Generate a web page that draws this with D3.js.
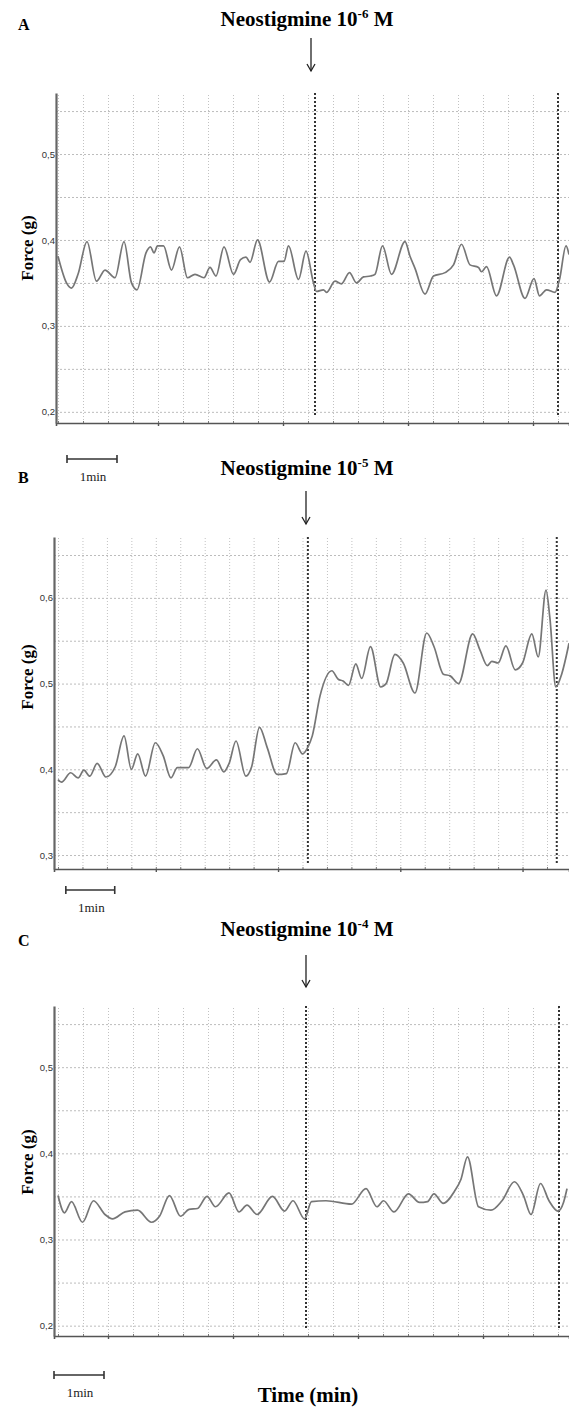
<!DOCTYPE html>
<html><head><meta charset="utf-8">
<script src="https://cdn.jsdelivr.net/npm/d3@7"></script>
<style>body{margin:0;background:#fff}svg{display:block}</style>
</head><body>
<svg id="chart" width="569" height="1409"></svg>
<script>
// ---------- data ----------
const panelLabels = ["A", "B", "C"];
const concentrationExponents = ["-6", "-5", "-4"];

const aTime = [0.00,0.17,0.27,0.40,0.58,0.77,0.94,1.14,1.32,1.47,1.58,1.76,1.85,1.92,1.99,2.11,2.27,2.43,2.59,2.74,2.92,3.04,3.16,3.32,3.51,3.65,3.76,3.84,3.99,4.23,4.41,4.52,4.61,4.81,4.96,5.11,5.17,5.31,5.37,5.54,5.67,5.83,5.97,6.11,6.25,6.34,6.49,6.67,6.94,7.04,7.14,7.34,7.51,7.74,7.91,8.07,8.24,8.41,8.47,8.57,8.77,9.03,9.11,9.34,9.52,9.63,9.77,9.94,10.03,10.16,10.22];
const aForce = [0.381,0.350,0.344,0.360,0.398,0.352,0.365,0.356,0.398,0.350,0.342,0.385,0.392,0.385,0.393,0.393,0.365,0.392,0.356,0.360,0.356,0.368,0.358,0.392,0.360,0.377,0.380,0.374,0.400,0.351,0.375,0.375,0.393,0.354,0.387,0.350,0.340,0.342,0.339,0.352,0.349,0.362,0.350,0.357,0.358,0.360,0.393,0.360,0.398,0.381,0.367,0.337,0.358,0.362,0.371,0.395,0.371,0.368,0.363,0.369,0.335,0.380,0.371,0.332,0.355,0.335,0.342,0.339,0.354,0.393,0.383];

const bTime = [0.00,0.07,0.26,0.41,0.53,0.65,0.80,0.98,1.17,1.35,1.50,1.63,1.79,1.99,2.15,2.31,2.44,2.67,2.85,3.04,3.24,3.39,3.50,3.64,3.84,3.96,4.12,4.28,4.48,4.67,4.85,5.00,5.11,5.20,5.36,5.60,5.73,5.83,5.94,6.09,6.21,6.39,6.60,6.71,6.89,7.06,7.30,7.54,7.69,7.88,8.02,8.19,8.48,8.63,8.78,8.87,9.00,9.16,9.35,9.50,9.69,9.82,9.98,10.06,10.18,10.30,10.45];
const bForce = [0.388,0.385,0.396,0.390,0.399,0.392,0.407,0.391,0.403,0.439,0.400,0.418,0.392,0.431,0.416,0.390,0.402,0.402,0.424,0.401,0.411,0.397,0.407,0.433,0.392,0.403,0.449,0.425,0.394,0.395,0.431,0.418,0.426,0.439,0.486,0.515,0.505,0.503,0.498,0.523,0.506,0.543,0.496,0.500,0.534,0.524,0.489,0.559,0.543,0.511,0.509,0.500,0.558,0.539,0.521,0.526,0.524,0.544,0.516,0.524,0.558,0.531,0.609,0.576,0.496,0.511,0.547];

const cTime = [0.00,0.13,0.27,0.49,0.71,0.94,1.09,1.34,1.59,1.87,2.03,2.23,2.45,2.62,2.79,2.98,3.15,3.42,3.62,3.78,3.98,4.29,4.53,4.70,4.93,5.07,5.36,5.87,6.16,6.38,6.51,6.72,7.01,7.23,7.39,7.52,7.70,7.93,8.06,8.19,8.41,8.66,8.88,9.13,9.31,9.46,9.65,9.82,10.00,10.11,10.18];
const cForce = [0.351,0.331,0.344,0.320,0.345,0.329,0.324,0.332,0.334,0.320,0.327,0.351,0.327,0.335,0.336,0.350,0.338,0.354,0.332,0.340,0.329,0.350,0.333,0.345,0.324,0.344,0.345,0.341,0.359,0.338,0.345,0.332,0.353,0.343,0.344,0.353,0.342,0.356,0.370,0.396,0.338,0.334,0.345,0.367,0.351,0.329,0.365,0.345,0.333,0.343,0.359];

// drug-addition / wash event markers (min)
const aEvents = [5.14, 10.0];
const bEvents = [5.11, 10.2];
const cEvents = [4.96, 10.02];

// y tick labels
const aYTicks = [0.2, 0.3, 0.4, 0.5];
const bYTicks = [0.3, 0.4, 0.5, 0.6];
const cYTicks = [0.2, 0.3, 0.4, 0.5];
const aYGrid = [0.2,0.25,0.3,0.35,0.4,0.45,0.5,0.55];
const bYGrid = [0.3,0.35,0.4,0.45,0.5,0.55,0.6,0.65];
const cYGrid = [0.2,0.25,0.3,0.35,0.4,0.45,0.5,0.55];

// ---------- layout ----------
const panels = [
  {time:aTime, force:aForce, events:aEvents, yTicks:aYTicks, yGrid:aYGrid,
   left:56, right:569, top:93, bottom:423, xDomain:[-0.04,10.22], yDomain:[0.187,0.571],
   majors:[2,4.5,7,9.5], titleY:26, labelY:30, arrowX:311, arrowY1:38, arrowY2:71,
   forceY:248, barY:459, barStart:0.18},
  {time:bTime, force:bForce, events:bEvents, yTicks:bYTicks, yGrid:bYGrid,
   left:54, right:569, top:537, bottom:869, xDomain:[-0.082,10.45], yDomain:[0.2837,0.671],
   majors:[2,4.5,7,9.5], titleY:475, labelY:483, arrowX:306, arrowY1:491, arrowY2:524,
   forceY:677, barY:890, barStart:0.16},
  {time:cTime, force:cForce, events:cEvents, yTicks:cYTicks, yGrid:cYGrid,
   left:54, right:569, top:1006, bottom:1336, xDomain:[-0.08,10.22], yDomain:[0.188,0.571],
   majors:[1,3.5,6,8.5], titleY:936, labelY:946, arrowX:306, arrowY1:955, arrowY2:987,
   forceY:1162, barY:1375, barStart:-0.08}
];

const svg = d3.select("#chart");
const serif = "'Liberation Serif','Times New Roman',serif";
const sans = "'Liberation Sans',Arial,sans-serif";
const fmt = d => d3.format(".1f")(d).replace(".", ",");

panels.forEach((p, i) => {
  const x = d3.scaleLinear().domain(p.xDomain).range([p.left, p.right]);
  const y = d3.scaleLinear().domain(p.yDomain).range([p.bottom, p.top]);
  const g = svg.append("g");

  const xGrid = d3.range(0, p.xDomain[1] + 0.001, 0.5);

  // horizontal grid
  g.append("g")
    .attr("transform", `translate(${p.left},0)`)
    .call(d3.axisLeft(y).tickValues(p.yGrid).tickSize(-(p.right - p.left)).tickFormat(""))
    .call(s => s.select(".domain").remove())
    .call(s => s.selectAll(".tick line").attr("stroke", "#bcbcbc").attr("stroke-width", 1).attr("stroke-dasharray", "2,2"));

  // vertical grid
  g.append("g")
    .attr("transform", `translate(0,${p.bottom})`)
    .call(d3.axisBottom(x).tickValues(xGrid).tickSize(-(p.bottom - p.top)).tickFormat(""))
    .call(s => s.select(".domain").remove())
    .call(s => s.selectAll(".tick line").attr("stroke", "#c2c2c2").attr("stroke-width", 1).attr("stroke-dasharray", "1,2"));

  // event lines
  g.selectAll(".ev").data(p.events).join("line")
    .attr("x1", d => x(d)).attr("x2", d => x(d))
    .attr("y1", p.top).attr("y2", p.bottom - 6)
    .attr("stroke", "#333").attr("stroke-width", 2).attr("stroke-dasharray", "2,2");

  // trace
  const clipId = "clip" + i;
  svg.append("clipPath").attr("id", clipId).append("rect")
    .attr("x", p.left).attr("y", p.top).attr("width", p.right - p.left).attr("height", p.bottom - p.top);
  const pts = p.time.map((t, k) => [t, p.force[k]]);
  g.append("path").datum(pts)
    .attr("clip-path", `url(#${clipId})`)
    .attr("fill", "none").attr("stroke", "#767676").attr("stroke-width", 1.7)
    .attr("stroke-linejoin", "round")
    .attr("d", d3.line().x(d => x(d[0])).y(d => y(d[1])).curve(d3.curveMonotoneX));

  // bottom axis
  g.append("g")
    .attr("transform", `translate(0,${p.bottom})`)
    .call(d3.axisBottom(x).tickValues(p.majors).tickSize(3).tickFormat(""))
    .call(s => s.select(".domain").attr("stroke", "#555").attr("stroke-width", 1.6))
    .call(s => s.selectAll(".tick line").attr("stroke", "#555").attr("stroke-width", 1.4));
  g.append("g")
    .attr("transform", `translate(0,${p.bottom})`)
    .call(d3.axisTop(x).tickValues(xGrid).tickSize(2).tickFormat(""))
    .call(s => s.select(".domain").remove())
    .call(s => s.selectAll(".tick line").attr("stroke", "#777"));

  // left axis
  g.append("g")
    .attr("transform", `translate(${p.left},0)`)
    .call(d3.axisLeft(y).tickValues(p.yTicks).tickSize(0).tickPadding(1).tickFormat(fmt))
    .call(s => s.select(".domain").attr("stroke", "#666").attr("stroke-width", 2.2))
    .call(s => s.selectAll(".tick text").attr("font-family", sans).attr("font-size", 9.5).attr("fill", "#333"));

  // Force label
  g.append("text")
    .attr("transform", `translate(33,${p.forceY}) rotate(-90)`)
    .attr("text-anchor", "middle")
    .attr("font-family", serif).attr("font-weight", "bold").attr("font-size", 17)
    .text("Force (g)");

  // panel letter
  g.append("text").attr("x", 18).attr("y", p.labelY)
    .attr("font-family", serif).attr("font-weight", "bold").attr("font-size", 16)
    .text(panelLabels[i]);

  // title
  const t = g.append("text").attr("x", 307).attr("y", p.titleY).attr("text-anchor", "middle")
    .attr("font-family", serif).attr("font-weight", "bold").attr("font-size", 21);
  t.append("tspan").text("Neostigmine 10");
  t.append("tspan").attr("dy", -8).attr("font-size", 13).text(concentrationExponents[i]);
  t.append("tspan").attr("dy", 8).text(" M");

  // arrow
  g.append("line").attr("x1", p.arrowX).attr("x2", p.arrowX)
    .attr("y1", p.arrowY1).attr("y2", p.arrowY2).attr("stroke", "#222").attr("stroke-width", 1.3);
  g.append("path")
    .attr("d", `M${p.arrowX - 4},${p.arrowY2 - 7}L${p.arrowX},${p.arrowY2}L${p.arrowX + 4},${p.arrowY2 - 7}`)
    .attr("fill", "none").attr("stroke", "#222").attr("stroke-width", 1.3);

  // scale bar 1 min
  const bx1 = x(p.barStart), bx2 = x(p.barStart + 1);
  const sb = g.append("g").attr("stroke", "#333").attr("stroke-width", 1.6);
  sb.append("line").attr("x1", bx1).attr("x2", bx2).attr("y1", p.barY).attr("y2", p.barY);
  sb.append("line").attr("x1", bx1).attr("x2", bx1).attr("y1", p.barY - 4).attr("y2", p.barY + 4);
  sb.append("line").attr("x1", bx2).attr("x2", bx2).attr("y1", p.barY - 4).attr("y2", p.barY + 4);
  g.append("text").attr("x", (bx1 + bx2) / 2 + 1).attr("y", p.barY + 22).attr("text-anchor", "middle")
    .attr("font-family", serif).attr("font-size", 13).attr("fill", "#222").text("1min");
});

svg.append("text").attr("x", 308).attr("y", 1402).attr("text-anchor", "middle")
  .attr("font-family", serif).attr("font-weight", "bold").attr("font-size", 21)
  .text("Time (min)");
</script>
</body></html>
